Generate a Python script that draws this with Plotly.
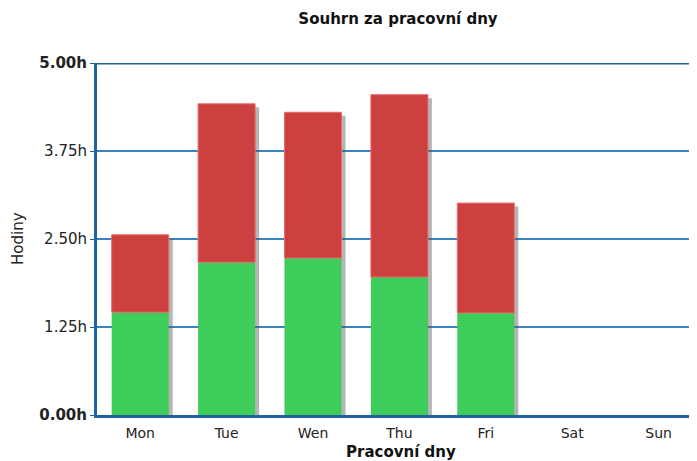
import plotly.graph_objects as go

days = ["Mon", "Tue", "Wen", "Thu", "Fri", "Sat", "Sun"]
green_hours = [1.46, 2.17, 2.23, 1.96, 1.45, 0, 0]
red_hours = [1.10, 2.25, 2.07, 2.59, 1.56, 0, 0]
y_ticks = [0, 1.25, 2.5, 3.75, 5]
y_tick_labels = ["<b>0.00h</b>", "1.25h", "2.50h", "3.75h", "<b>5.00h</b>"]

totals = [g + r for g, r in zip(green_hours, red_hours)]

# page body has an 8px default margin, so the figure is drawn 8px in
OFF = 8
W, H = 697 - OFF, 461 - OFF
ML, MT, MB, MR = 97 - OFF, 63 - OFF, 46, 0
plot_w = W - ML - MR
band = 86.4
bw = 0.66

fig = go.Figure()
# drop shadow
fig.add_trace(go.Bar(
    x=days, y=totals, base=[-0.05] * len(days),
    width=bw, offset=-bw / 2 + 4 / band,
    marker=dict(color="rgba(90,90,90,0.45)", line=dict(width=0)),
    hoverinfo="skip", showlegend=False,
))
fig.add_trace(go.Bar(
    x=days, y=green_hours, width=bw, offset=-bw / 2,
    marker=dict(color="#3ecc5a", line=dict(width=0)),
    showlegend=False,
))
fig.add_trace(go.Bar(
    x=days, y=red_hours, base=green_hours, width=bw, offset=-bw / 2,
    marker=dict(color="#cc4040",
                line=dict(width=[1 if r > 0 else 0 for r in red_hours], color="#ec6a6a")),
    showlegend=False,
))

fig.update_layout(
    width=W, height=H,
    margin=dict(l=ML, r=MR, t=MT, b=MB, pad=0),
    barmode="overlay",
    plot_bgcolor="white", paper_bgcolor="white",
    font=dict(family="DejaVu Sans", color="#222"),
    title=dict(text="<b>Souhrn za pracovní dny</b>", x=(398 - 97) / plot_w,
               xref="paper", xanchor="center", y=1 - (19 - OFF) / H, yanchor="middle",
               font=dict(size=15, color="#111")),
    xaxis=dict(
        type="category", range=[-0.5, -0.5 + plot_w / band],
        showline=True, linecolor="#1f62a0", linewidth=3,
        showgrid=False, ticks="", tickfont=dict(size=14, color="#222"),
        ticklabelstandoff=3, fixedrange=True,
    ),
    yaxis=dict(
        range=[0, 5], tickvals=y_ticks, ticktext=y_tick_labels,
        showline=True, linecolor="#1f62a0", linewidth=3,
        showgrid=True, gridcolor="#3a84bd", gridwidth=2,
        ticks="outside", ticklen=4, tickcolor="#1f62a0", tickwidth=1,
        tickfont=dict(size=15, color="#222"), zeroline=False,
    ),
    shapes=[dict(type="line", xref="paper", yref="y", x0=0, x1=1, y0=5, y1=5,
                 line=dict(color="#1f62a0", width=3), layer="above")],
    annotations=[
        dict(text="<b>Pracovní dny</b>", xref="paper", yref="paper",
             x=(401 - 97) / plot_w, y=0, yshift=-37, xanchor="center", yanchor="middle",
             showarrow=False, font=dict(size=15, color="#111")),
        dict(text="Hodiny", xref="paper", yref="paper",
             x=(18 - 97) / plot_w, y=0.5, xanchor="center", yanchor="middle",
             textangle=-90, showarrow=False, font=dict(size=15, color="#222")),
    ],
)

fig.write_html("out.html")
